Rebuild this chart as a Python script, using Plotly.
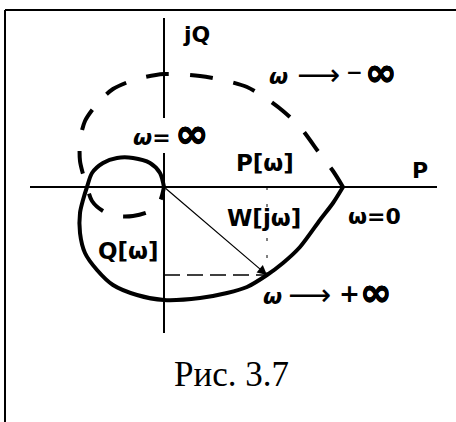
import plotly.graph_objects as go

# Frequency response hodograph W(jω) = P(ω) + jQ(ω), ω from 0 to +∞
P = [1.79, 1.69, 1.56, 1.36, 1.19, 1.03, 0.83, 0.63, 0.36, 0.00, -0.27, -0.51,
     -0.67, -0.79, -0.84, -0.84, -0.81, -0.77, -0.72, -0.61, -0.47, -0.31, -0.14,
     -0.04, 0.00]
Q = [0.00, -0.16, -0.33, -0.60, -0.76, -0.88, -1.00, -1.06, -1.11, -1.13, -1.08,
     -0.98, -0.83, -0.66, -0.46, -0.26, -0.13, 0.00, 0.14, 0.24, 0.29, 0.29, 0.24,
     0.14, 0.00]

# Conjugate branch for ω from -∞ to 0
P_neg = P[:]
Q_neg = [-q for q in Q]

# Selected point W(jω) and its projections
W_P = 1.03
W_Q = -0.88

# Axis extents
P_AXIS = [-1.34, 2.73]
Q_AXIS_UPPER = [1.69, 0.69]
Q_AXIS_LOWER = [0.34, -1.46]

fig = go.Figure()

fig.add_trace(go.Scatter(x=P_neg, y=Q_neg, mode="lines", line_shape="spline",
                         line=dict(color="black", width=4, dash="23px,21px",
                                   smoothing=0.8),
                         hoverinfo="skip"))
fig.add_trace(go.Scatter(x=P, y=Q, mode="lines", line_shape="spline",
                         line=dict(color="black", width=4, smoothing=0.8),
                         hoverinfo="skip"))

# coordinate axes
fig.add_trace(go.Scatter(x=P_AXIS, y=[0, 0], mode="lines",
                         line=dict(color="black", width=2), hoverinfo="skip"))
fig.add_trace(go.Scatter(x=[0, 0], y=Q_AXIS_UPPER, mode="lines",
                         line=dict(color="black", width=2), hoverinfo="skip"))
fig.add_trace(go.Scatter(x=[0, 0], y=Q_AXIS_LOWER, mode="lines",
                         line=dict(color="black", width=2), hoverinfo="skip"))

# projections of W(jω)
fig.add_trace(go.Scatter(x=[0, W_P], y=[W_Q, W_Q], mode="lines",
                         line=dict(color="black", width=1.5, dash="16px,7px"),
                         hoverinfo="skip"))
fig.add_trace(go.Scatter(x=[W_P, W_P], y=[0, W_Q], mode="lines",
                         line=dict(color="black", width=1, dash="3px,14px"),
                         hoverinfo="skip"))

# vector W(jω)
fig.add_annotation(x=W_P, y=W_Q, ax=0, ay=0, xref="x", yref="y", axref="x", ayref="y",
                   text="", showarrow=True, arrowhead=2, arrowsize=1.6,
                   arrowwidth=1.2, arrowcolor="black", standoff=0)

FAMILY = "DejaVu Sans, Liberation Sans, sans-serif"
HEAVY = "0.5px 0 0 black, -0.5px 0 0 black, 0 0.5px 0 black, 0 -0.5px 0 black"


def label(x, y, text, size, bold=True, heavy=False):
    fig.add_annotation(x=x, y=y, xref="x", yref="y",
                       text=("<b>" + text + "</b>") if bold else text,
                       showarrow=False, xanchor="center", yanchor="middle",
                       font=dict(family=FAMILY, size=size, color="black",
                                 shadow=HEAVY if heavy else "none"))


label(0.32, 1.53, "jQ", 22)
label(1.01, 0.24, "P[ω]", 23)
label(2.56, 0.17, "P", 22)
label(1.00, -0.31, "W[jω]", 23)
label(2.10, -0.29, "ω=0", 22)
label(-0.36, -0.64, "Q[ω]", 23)

# ω → −∞
label(1.14, 1.11, "<i>ω</i>", 22)
label(1.54, 1.13, "⟶", 30, bold=False)
label(1.90, 1.15, "−", 20)
label(2.17, 1.15, "∞", 38, heavy=True)

# ω → +∞
label(1.08, -1.09, "<i>ω</i>", 22)
label(1.45, -1.07, "⟶", 30, bold=False)
label(1.85, -1.06, "+", 25)
label(2.12, -1.05, "∞", 38, heavy=True)

# ω = ∞
label(-0.12, 0.50, "<i>ω</i>=", 22)
label(0.27, 0.54, "∞", 40, heavy=True)

fig.add_annotation(x=0.67, y=-1.87, xref="x", yref="y", text="Рис. 3.7",
                   showarrow=False, xanchor="center", yanchor="middle",
                   font=dict(family="Liberation Serif, Times New Roman, serif",
                             size=35, color="black"))

# frame
fig.add_shape(type="line", xref="paper", yref="paper", x0=5 / 456, x1=1.02,
              y0=1 - 10 / 422, y1=1 - 10 / 422, line=dict(color="black", width=2))
fig.add_shape(type="line", xref="paper", yref="paper", x0=5 / 456, x1=5 / 456,
              y0=1 - 10 / 422, y1=-0.02, line=dict(color="black", width=2))

fig.update_layout(
    width=456, height=422,
    margin=dict(l=0, r=0, t=0, b=0),
    paper_bgcolor="white", plot_bgcolor="white",
    showlegend=False,
    xaxis=dict(range=[-1.64, 2.92], visible=False, fixedrange=True),
    yaxis=dict(range=[-2.35, 1.87], visible=False, fixedrange=True),
)

fig.write_html("out.html")
